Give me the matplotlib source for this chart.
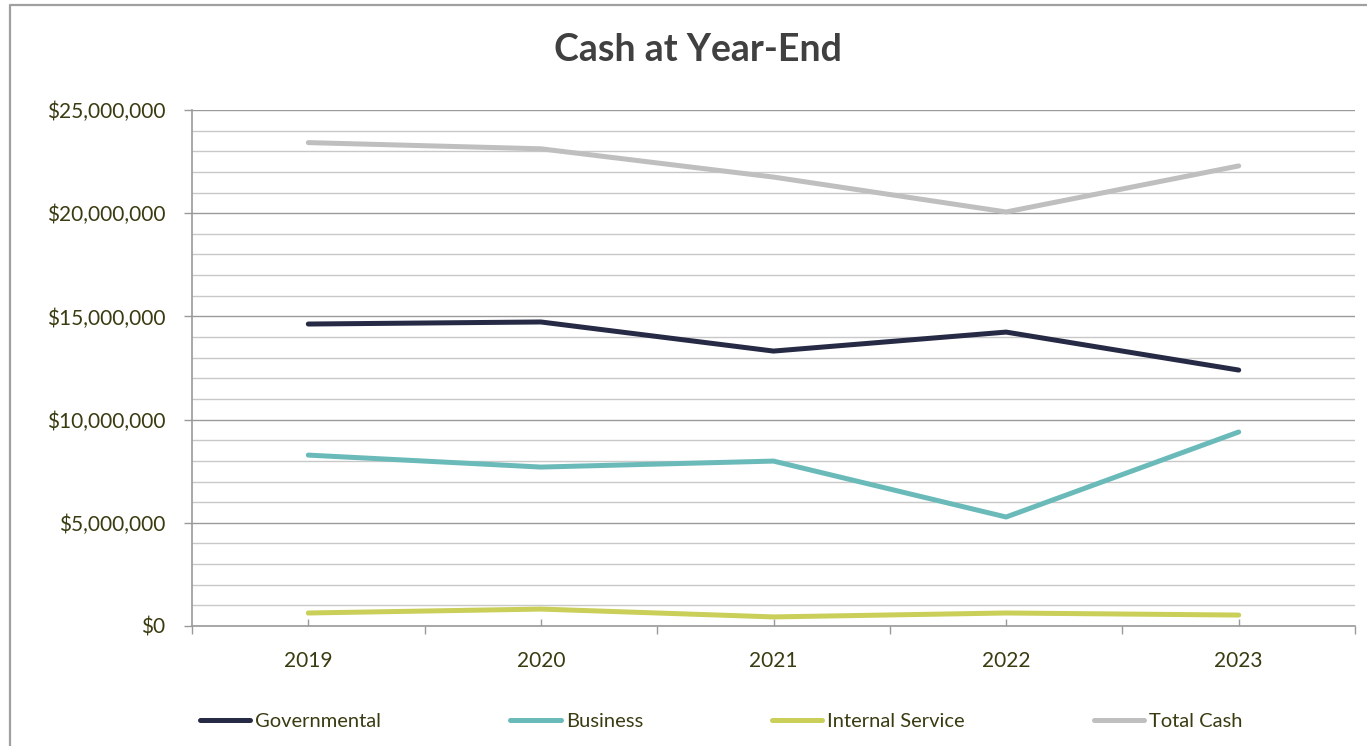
import matplotlib
matplotlib.use("Agg")
import matplotlib.pyplot as plt
from matplotlib.ticker import FuncFormatter, MultipleLocator, FixedLocator
from matplotlib.lines import Line2D

years = ["2019", "2020", "2021", "2022", "2023"]
governmental = [14.63e6, 14.73e6, 13.32e6, 14.24e6, 12.40e6]
business = [8.28e6, 7.70e6, 7.99e6, 5.28e6, 9.40e6]
internal_service = [0.63e6, 0.82e6, 0.44e6, 0.63e6, 0.53e6]
total_cash = [23.42e6, 23.12e6, 21.75e6, 20.06e6, 22.29e6]

series = [
    ("Governmental", governmental, "#262a45"),
    ("Business", business, "#6bbaba"),
    ("Internal Service", internal_service, "#c9cf58"),
    ("Total Cash", total_cash, "#bfbfbf"),
]

plt.rcParams['font.family'] = ['Lato', 'DejaVu Sans']
text_color = "#3b3b12"

W, H = 1367, 746
fig = plt.figure(figsize=(W / 100, H / 100), dpi=100)
ax = fig.add_axes([192 / W, 1 - 626 / H, (1355 - 192) / W, (626 - 110) / H])

x = list(range(len(years)))
for name, vals, col in series:
    ax.plot(x, vals, color=col, lw=3.6, solid_capstyle='round', solid_joinstyle='round', label=name, zorder=3)

ax.set_xlim(-0.5, len(years) - 0.5)
ax.set_ylim(0, 25e6)
ax.yaxis.set_major_locator(MultipleLocator(5e6))
ax.yaxis.set_minor_locator(MultipleLocator(1e6))
ax.yaxis.set_major_formatter(FuncFormatter(lambda v, p: "${:,.0f}".format(v)))
ax.grid(which='major', axis='y', color='#9a9a9a', lw=1.0, zorder=1)
ax.grid(which='minor', axis='y', color='#c8c8c8', lw=1.0, zorder=1)
ax.tick_params(axis='y', which='major', length=6, width=1, color='#9a9a9a',
               labelsize=15, labelcolor=text_color, pad=13)
ax.tick_params(axis='y', which='minor', length=0)

ax.xaxis.set_major_locator(FixedLocator(x))
ax.set_xticklabels(years)
ax.xaxis.set_minor_locator(FixedLocator([i - 0.5 for i in range(len(years) + 1)]))
ax.tick_params(axis='x', which='major', direction='in', length=5, width=1, color='#9a9a9a',
               labelsize=15, labelcolor=text_color, pad=18)
ax.tick_params(axis='x', which='minor', direction='out', length=6, width=1, color='#9a9a9a')

for s in ['top', 'right']:
    ax.spines[s].set_visible(False)
for s in ['left', 'bottom']:
    ax.spines[s].set_color('#9a9a9a')
    ax.spines[s].set_linewidth(1.2)

fig.text(698 / W, 1 - 50 / H, "Cash at Year-End", ha='center', va='center',
         fontsize=27, fontweight='bold', color='#404040')

handles = [Line2D([0], [0], color=c, lw=3.6, solid_capstyle='round') for _, _, c in series]
leg = fig.legend(handles, [n for n, _, _ in series], loc='center left',
                 bbox_to_anchor=(200 / W, 1 - 721 / H), ncol=4, frameon=False,
                 fontsize=14.5, handlelength=2.5, handletextpad=0.25, columnspacing=6.4,
                 borderaxespad=0, borderpad=0)
for t in leg.get_texts():
    t.set_color(text_color)

fig.add_artist(Line2D([10 / W, 10 / W, 1.0], [0.0, 1 - 5 / H, 1 - 5 / H],
                      transform=fig.transFigure, color='#a0a0a0', lw=1.6))

fig.savefig("out.png", dpi=100, facecolor='white')
